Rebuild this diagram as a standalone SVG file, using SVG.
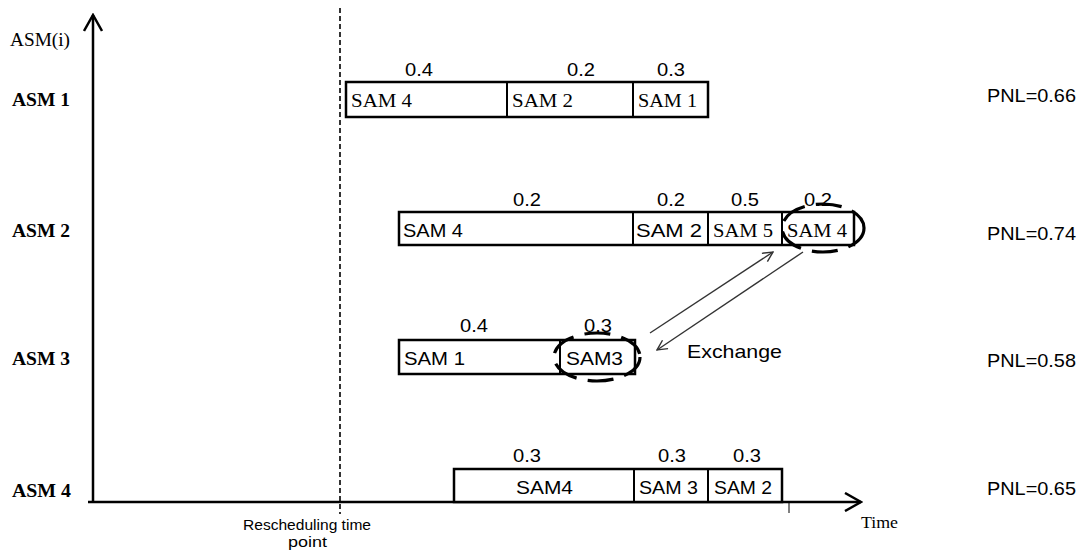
<svg xmlns="http://www.w3.org/2000/svg" width="1087" height="553" viewBox="0 0 1087 553">
<defs>
<style>
.serif{font-family:"Liberation Serif","Times New Roman",serif;fill:#000}
.sans{font-family:"Liberation Sans",Arial,sans-serif;fill:#000}
.lbl{font-family:"Liberation Serif","Times New Roman",serif;font-weight:bold;font-size:19px;fill:#000}
.box{fill:#fff;stroke:#000;stroke-width:2.5}
.div{stroke:#000;stroke-width:2}
.num{font-family:"Liberation Sans",Arial,sans-serif;font-size:19px;fill:#000}
.pnl{font-family:"Liberation Sans",Arial,sans-serif;font-size:19px;fill:#000}
.cell{font-size:19px}
.oval{fill:none;stroke:#000;stroke-width:3.2;stroke-dasharray:26 11}
.thin{stroke:#333;stroke-width:1.4;fill:none}
</style>
<marker id="ah" viewBox="0 0 12 12" refX="11" refY="6" markerWidth="12" markerHeight="12" markerUnits="userSpaceOnUse" orient="auto">
<path d="M1,1 L11,6 L1,11" fill="none" stroke="#333" stroke-width="1.4"/>
</marker>
<marker id="axh" viewBox="0 0 20 20" refX="18" refY="10" markerWidth="20" markerHeight="20" markerUnits="userSpaceOnUse" orient="auto">
<path d="M2,1 L18,10 L2,19" fill="none" stroke="#000" stroke-width="2.5"/>
</marker>
</defs>

<g id="axes">
<line x1="93" y1="503" x2="93" y2="15" stroke="#000" stroke-width="2.5" marker-end="url(#axh)"/>
<line x1="88" y1="502" x2="861" y2="502" stroke="#000" stroke-width="2.5" marker-end="url(#axh)"/>
<line x1="789" y1="502" x2="789" y2="513" stroke="#000" stroke-width="1"/>
<line x1="340" y1="8" x2="340" y2="514" stroke="#000" stroke-width="1.6" stroke-dasharray="5 3"/>
<text class="serif" x="10" y="46" font-size="18" textLength="60" lengthAdjust="spacingAndGlyphs">ASM(i)</text>
<text class="serif" x="861" y="528" font-size="17" textLength="37" lengthAdjust="spacingAndGlyphs">Time</text>
<text class="sans" x="243" y="530" font-size="14" textLength="128" lengthAdjust="spacingAndGlyphs">Rescheduling time</text>
<text class="sans" x="288" y="547" font-size="14" textLength="39" lengthAdjust="spacingAndGlyphs">point</text>
</g>

<g id="asm1">
<text class="lbl" x="12" y="106" textLength="58" lengthAdjust="spacingAndGlyphs">ASM 1</text>
<rect class="box" x="346" y="82" width="362" height="35"/>
<line class="div" x1="507" y1="82" x2="507" y2="117"/>
<line class="div" x1="633" y1="82" x2="633" y2="117"/>
<text class="serif cell" x="351" y="107" textLength="61" lengthAdjust="spacingAndGlyphs">SAM 4</text>
<text class="serif cell" x="512" y="107" textLength="61" lengthAdjust="spacingAndGlyphs">SAM 2</text>
<text class="serif cell" x="638" y="107" textLength="59" lengthAdjust="spacingAndGlyphs">SAM 1</text>
<text class="num" x="405" y="76" textLength="28" lengthAdjust="spacingAndGlyphs">0.4</text>
<text class="num" x="567" y="76" textLength="28" lengthAdjust="spacingAndGlyphs">0.2</text>
<text class="num" x="657" y="76" textLength="28" lengthAdjust="spacingAndGlyphs">0.3</text>
<text class="pnl" x="987" y="102" textLength="89" lengthAdjust="spacingAndGlyphs">PNL=0.66</text>
</g>

<g id="asm2">
<text class="lbl" x="12" y="237" textLength="58" lengthAdjust="spacingAndGlyphs">ASM 2</text>
<rect class="box" x="399" y="212" width="455" height="33"/>
<line class="div" x1="633" y1="212" x2="633" y2="245"/>
<line class="div" x1="708" y1="212" x2="708" y2="245"/>
<line class="div" x1="782" y1="212" x2="782" y2="245"/>
<text class="sans cell" x="403" y="237" textLength="60" lengthAdjust="spacingAndGlyphs">SAM 4</text>
<text class="sans cell" x="636" y="237" textLength="66" lengthAdjust="spacingAndGlyphs">SAM 2</text>
<text class="serif cell" x="713" y="237" textLength="60" lengthAdjust="spacingAndGlyphs">SAM 5</text>
<text class="serif cell" x="787" y="237" textLength="60" lengthAdjust="spacingAndGlyphs">SAM 4</text>
<text class="num" x="513" y="206" textLength="28" lengthAdjust="spacingAndGlyphs">0.2</text>
<text class="num" x="657" y="206" textLength="28" lengthAdjust="spacingAndGlyphs">0.2</text>
<text class="num" x="731" y="206" textLength="28" lengthAdjust="spacingAndGlyphs">0.5</text>
<text class="num" x="804" y="206" textLength="28" lengthAdjust="spacingAndGlyphs">0.2</text>
<ellipse class="oval" cx="823" cy="228" rx="41" ry="24"/>
<text class="pnl" x="987" y="240" textLength="89" lengthAdjust="spacingAndGlyphs">PNL=0.74</text>
</g>

<g id="asm3">
<text class="lbl" x="12" y="365" textLength="58" lengthAdjust="spacingAndGlyphs">ASM 3</text>
<rect class="box" x="399" y="340" width="236" height="34"/>
<line class="div" x1="560" y1="340" x2="560" y2="374"/>
<text class="sans cell" x="404" y="365" textLength="61" lengthAdjust="spacingAndGlyphs">SAM 1</text>
<text class="sans cell" x="566" y="365" textLength="57" lengthAdjust="spacingAndGlyphs">SAM3</text>
<text class="num" x="460" y="332" textLength="28" lengthAdjust="spacingAndGlyphs">0.4</text>
<text class="num" x="584" y="332" textLength="28" lengthAdjust="spacingAndGlyphs">0.3</text>
<ellipse class="oval" cx="597" cy="357" rx="43" ry="24"/>
<text class="pnl" x="987" y="367" textLength="89" lengthAdjust="spacingAndGlyphs">PNL=0.58</text>
</g>

<g id="asm4">
<text class="lbl" x="12" y="497" textLength="59" lengthAdjust="spacingAndGlyphs">ASM 4</text>
<rect class="box" x="454" y="469" width="328" height="33"/>
<line class="div" x1="634" y1="469" x2="634" y2="502"/>
<line class="div" x1="708" y1="469" x2="708" y2="502"/>
<text class="sans cell" x="516" y="494" textLength="57" lengthAdjust="spacingAndGlyphs">SAM4</text>
<text class="sans cell" x="639" y="494" textLength="59" lengthAdjust="spacingAndGlyphs">SAM 3</text>
<text class="sans cell" x="714" y="494" textLength="58" lengthAdjust="spacingAndGlyphs">SAM 2</text>
<text class="num" x="513" y="462" textLength="28" lengthAdjust="spacingAndGlyphs">0.3</text>
<text class="num" x="658" y="462" textLength="28" lengthAdjust="spacingAndGlyphs">0.3</text>
<text class="num" x="733" y="462" textLength="28" lengthAdjust="spacingAndGlyphs">0.3</text>
<text class="pnl" x="987" y="495" textLength="89" lengthAdjust="spacingAndGlyphs">PNL=0.65</text>
</g>

<g id="connectors">
<line class="thin" x1="650" y1="333" x2="773" y2="252" marker-end="url(#ah)"/>
<line class="thin" x1="803" y1="252" x2="657" y2="350" marker-end="url(#ah)"/>
</g>

<g id="exchange-label">
<text class="sans" x="687" y="358" font-size="19" textLength="95" lengthAdjust="spacingAndGlyphs">Exchange</text>
</g>
</svg>
